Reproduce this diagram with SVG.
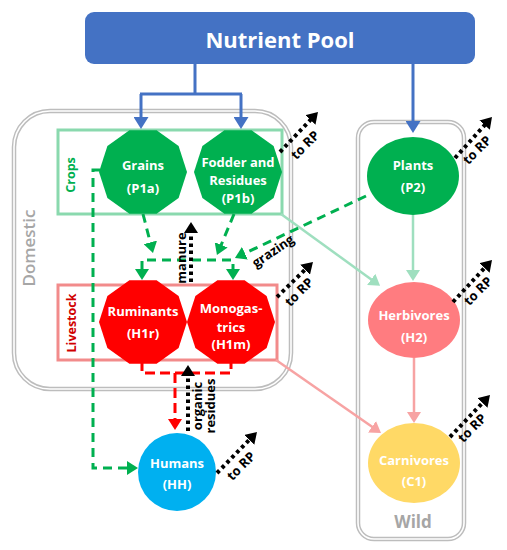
<svg xmlns="http://www.w3.org/2000/svg" xmlns:xlink="http://www.w3.org/1999/xlink" width="507" height="550" viewBox="0 0 507 550">
<style>
  text { font-family: "Open Sans", "Noto Sans", "Liberation Sans", sans-serif; font-weight: bold; }
  .nt { fill: #ffffff; font-size: 13px; text-anchor: middle; }
  .lbl { fill: #000000; font-size: 13px; text-anchor: middle; }
  .torp { fill: #000000; font-size: 13px; text-anchor: middle; }
  .cont-o { fill: none; stroke: #bdbdbd; stroke-width: 4.5; }
  .cont-i { fill: none; stroke: #ffffff; stroke-width: 1.6; }
  .blue { fill: none; stroke: #4472C4; stroke-width: 3; }
  .lg { fill: none; stroke: #9FDFBF; stroke-width: 2.5; }
  .lr { fill: none; stroke: #F7A3A3; stroke-width: 2.5; }
  .gd { fill: none; stroke: #00B050; stroke-width: 3; stroke-dasharray: 9 6; }
  .rd { fill: none; stroke: #FF0000; stroke-width: 3; stroke-dasharray: 10 5; }
  .dot { fill: none; stroke: #000000; stroke-width: 4; stroke-dasharray: 3.5 3.5; }
</style>
<defs>
  <polygon id="deca" points="44,0 35.6,25.9 13.6,41.8 -13.6,41.8 -35.6,25.9 -44,0 -35.6,-25.9 -13.6,-41.8 13.6,-41.8 35.6,-25.9"/>
  <marker id="m-blue" markerUnits="userSpaceOnUse" markerWidth="13" markerHeight="15" refX="1" refY="7.5" orient="auto"><path d="M0,0 L12,7.5 L0,15 z" fill="#4472C4"/></marker>
  <marker id="m-lg" markerUnits="userSpaceOnUse" markerWidth="12" markerHeight="14" refX="1" refY="7" orient="auto"><path d="M0,0 L11,7 L0,14 z" fill="#9FDFBF"/></marker>
  <marker id="m-lr" markerUnits="userSpaceOnUse" markerWidth="12" markerHeight="14" refX="1" refY="7" orient="auto"><path d="M0,0 L11,7 L0,14 z" fill="#F7A3A3"/></marker>
  <marker id="m-g" markerUnits="userSpaceOnUse" markerWidth="12" markerHeight="14" refX="1" refY="7" orient="auto-start-reverse"><path d="M0,0 L11,7 L0,14 z" fill="#00B050"/></marker>
  <marker id="m-r" markerUnits="userSpaceOnUse" markerWidth="12" markerHeight="14" refX="1" refY="7" orient="auto"><path d="M0,0 L11,7 L0,14 z" fill="#FF0000"/></marker>
  <marker id="m-k" markerUnits="userSpaceOnUse" markerWidth="12" markerHeight="14" refX="1" refY="7" orient="auto"><path d="M0,0 L11,7 L0,14 z" fill="#000000"/></marker>
</defs>
<rect width="507" height="550" fill="#ffffff"/>

<g id="domestic">
  <rect class="cont-o" x="14" y="111" width="277" height="278" rx="36"/>
  <rect class="cont-i" x="14" y="111" width="277" height="278" rx="36"/>
  <text transform="translate(29,248) rotate(-90)" text-anchor="middle" dy="0.35em" style="font-weight:600;font-size:17px;fill:#A6A6A6">Domestic</text>
</g>
<g id="wild">
  <rect class="cont-o" x="358" y="122" width="106" height="417" rx="16"/>
  <rect class="cont-i" x="358" y="122" width="106" height="417" rx="16"/>
  <text x="413" y="528" text-anchor="middle" style="font-size:17px;fill:#A6A6A6">Wild</text>
</g>
<g id="crops">
  <rect x="58" y="130" width="224" height="84" fill="none" stroke="#8AD9AE" stroke-width="3"/>
  <text transform="translate(71,175) rotate(-90)" text-anchor="middle" dy="0.35em" style="font-size:12.5px;fill:#00B050">Crops</text>
</g>
<g id="livestock">
  <rect x="58" y="285" width="219" height="75" fill="none" stroke="#F28B8B" stroke-width="3"/>
  <text transform="translate(72,323) rotate(-90)" text-anchor="middle" dy="0.35em" style="font-size:12.5px;fill:#D00000">Livestock</text>
</g>

<g id="nutrient-pool">
  <rect x="85" y="12" width="390" height="52" rx="9" fill="#4472C4"/>
  <text x="280" y="48" text-anchor="middle" style="font-size:22px;fill:#ffffff">Nutrient Pool</text>
</g>

<g id="grains">
  <use xlink:href="#deca" href="#deca" x="143" y="172" fill="#00B050"/>
  <text class="nt" x="143" y="170">Grains</text>
  <text class="nt" x="143" y="193">(P1a)</text>
</g>
<g id="fodder">
  <use xlink:href="#deca" href="#deca" x="238" y="172" fill="#00B050"/>
  <text class="nt" x="238" y="167">Fodder and</text>
  <text class="nt" x="238" y="185">Residues</text>
  <text class="nt" x="238" y="203">(P1b)</text>
</g>
<g id="ruminants">
  <use xlink:href="#deca" href="#deca" x="143" y="322" fill="#FF0000"/>
  <text class="nt" x="143" y="316">Ruminants</text>
  <text class="nt" x="143" y="338">(H1r)</text>
</g>
<g id="monogastrics">
  <use xlink:href="#deca" href="#deca" x="231" y="322" fill="#FF0000"/>
  <text class="nt" x="231" y="313">Monogas-</text>
  <text class="nt" x="231" y="332">trics</text>
  <text class="nt" x="231" y="349">(H1m)</text>
</g>
<g id="plants">
  <ellipse cx="413" cy="176" rx="46" ry="39" fill="#00B050"/>
  <text class="nt" x="413" y="170">Plants</text>
  <text class="nt" x="413" y="192">(P2)</text>
</g>
<g id="herbivores">
  <ellipse cx="414" cy="320" rx="46" ry="38" fill="#FF7C80"/>
  <text class="nt" x="414" y="320">Herbivores</text>
  <text class="nt" x="414" y="342">(H2)</text>
</g>
<g id="carnivores">
  <ellipse cx="414" cy="463" rx="46" ry="40" fill="#FFD966"/>
  <text class="nt" x="414" y="465">Carnivores</text>
  <text class="nt" x="414" y="486">(C1)</text>
</g>
<g id="humans">
  <circle cx="177" cy="472" r="39" fill="#00B0F0"/>
  <text class="nt" x="177" y="468">Humans</text>
  <text class="nt" x="177" y="489">(HH)</text>
</g>

<g id="connectors">
  <!-- nutrient pool -->
  <path class="blue" d="M195,64 V94 M140,94 H242"/>
  <path class="blue" d="M141,94 V118" marker-end="url(#m-blue)"/>
  <path class="blue" d="M241,94 V118" marker-end="url(#m-blue)"/>
  <path class="blue" d="M413,64 V122" marker-end="url(#m-blue)"/>
  <!-- wild food chain -->
  <path class="lg" d="M413,215 V271" marker-end="url(#m-lg)"/>
  <path class="lg" d="M281,214 L372,280" marker-end="url(#m-lg)"/>
  <path class="lr" d="M414,358 V413" marker-end="url(#m-lr)"/>
  <path class="lr" d="M276,360 L372.8,427.3" marker-end="url(#m-lr)"/>
  <!-- feed to livestock -->
  <path class="gd" d="M366,196 L244,253.7" marker-end="url(#m-g)"/>
  <path class="gd" d="M143,214 L150.5,243.3" marker-end="url(#m-g)"/>
  <path class="gd" d="M234,214 L220.8,245.8" marker-end="url(#m-g)"/>
  <path class="gd" d="M142,270 V260 H233 V270" marker-start="url(#m-g)" marker-end="url(#m-g)"/>
  <!-- grains to humans -->
  <path class="gd" d="M100,170 H93 V468 H128" marker-end="url(#m-g)"/>
  <!-- livestock to humans -->
  <path class="rd" d="M142,361 V373 H231 V361"/>
  <path class="rd" d="M175,373 V420" marker-end="url(#m-r)"/>
  <!-- manure / organic residues -->
  <path class="dot" d="M191,282 V232" marker-end="url(#m-k)"/>
  <path class="dot" d="M188,431 V375" marker-end="url(#m-k)"/>
  <!-- to RP -->
  <path class="dot" d="M280,152 L311.1,119.2" marker-end="url(#m-k)"/>
  <path class="dot" d="M455,158 L485.3,124.4" marker-end="url(#m-k)"/>
  <path class="dot" d="M277,297 L305.8,269" marker-end="url(#m-k)"/>
  <path class="dot" d="M453,302 L485.2,267.3" marker-end="url(#m-k)"/>
  <path class="dot" d="M450,437 L483.1,402.2" marker-end="url(#m-k)"/>
  <path class="dot" d="M217,473 L250,439.2" marker-end="url(#m-k)"/>
  <!-- labels -->
  <text class="lbl" transform="translate(273,251) rotate(-34)" dy="0.35em">grazing</text>
  <text class="lbl" transform="translate(181,258) rotate(-90)" dy="0.35em">manure</text>
  <text class="lbl" transform="translate(197,406) rotate(-90)" dy="0.35em">organic</text>
  <text class="lbl" transform="translate(210,406) rotate(-90)" dy="0.35em">residues</text>
  <text class="torp" transform="translate(305,145) rotate(-45)" dy="0.35em">to RP</text>
  <text class="torp" transform="translate(477,150) rotate(-45)" dy="0.35em">to RP</text>
  <text class="torp" transform="translate(299,292) rotate(-45)" dy="0.35em">to RP</text>
  <text class="torp" transform="translate(478,291) rotate(-45)" dy="0.35em">to RP</text>
  <text class="torp" transform="translate(472,428) rotate(-45)" dy="0.35em">to RP</text>
  <text class="torp" transform="translate(241,466) rotate(-45)" dy="0.35em">to RP</text>
</g>
</svg>
